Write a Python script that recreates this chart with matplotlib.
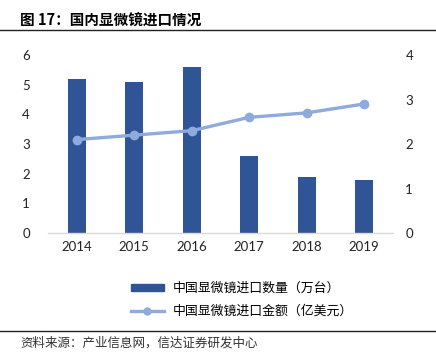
import matplotlib
matplotlib.use('Agg')
import matplotlib.pyplot as plt
from matplotlib.lines import Line2D
from matplotlib.patches import Patch
import numpy as np

plt.rcParams['font.family'] = ['Lato', 'Noto Sans CJK SC', 'DejaVu Sans']

#%% DATA
years = ['2014', '2015', '2016', '2017', '2018', '2019']
qty = [5.2, 5.1, 5.6, 2.6, 1.9, 1.8]       # 万台
amount = [2.1, 2.2, 2.3, 2.6, 2.7, 2.9]    # 亿美元
left_ticks = [0, 1, 2, 3, 4, 5, 6]
right_ticks = [0, 1, 2, 3, 4]

title = '图 17：国内显微镜进口情况'
source = '资料来源：产业信息网，信达证券研发中心'
lab_bar = '中国显微镜进口数量（万台）'
lab_line = '中国显微镜进口金额（亿美元）'

bar_c = '#2F5597'
line_c = '#8FAADC'

#%% FIGURE
fig = plt.figure(figsize=(4.36, 3.57), dpi=100)
ax = fig.add_axes([0.110, 0.347, 0.791, 0.499])
ax2 = ax.twinx()

x = np.arange(len(years))
ax.bar(x, qty, width=0.31, color=bar_c, zorder=2)
ax2.plot(x, amount, color=line_c, lw=2.4, marker='o', ms=6, zorder=3)

ax.set_xlim(-0.5, len(years) - 0.5)
ax.set_ylim(0, 6)
ax2.set_ylim(0, 4)
ax.set_xticks(x)
ax.set_xticklabels(years)
ax.set_yticks(left_ticks)
ax2.set_yticks(right_ticks)

for a in (ax, ax2):
    for s in a.spines.values():
        s.set_visible(False)
    a.tick_params(length=0, labelsize=9.5, colors='#222222')
ax.spines['bottom'].set_visible(True)
ax.spines['bottom'].set_color('#D9D9D9')
ax.spines['bottom'].set_linewidth(1.0)
ax.tick_params(axis='y', pad=13)
ax2.tick_params(axis='y', pad=9)
ax.tick_params(axis='x', pad=6)

### legend
handles = [Patch(color=bar_c), Line2D([0], [0], color=line_c, lw=2.4, marker='o', ms=5)]
fig.legend(handles, [lab_bar, lab_line], loc='center', bbox_to_anchor=(0.555, 0.16),
           frameon=False, handlelength=2.6, handleheight=0.5, labelspacing=0.75,
           handletextpad=0.7, prop={'family': ['Noto Sans CJK SC'], 'size': 9.3})

### title, source, rules
fig.text(0.046, 0.942, title, fontsize=10.5, fontweight='bold', va='center',
         family=['Noto Sans CJK SC'])
fig.add_artist(Line2D([0, 1], [0.916, 0.916], color='#222222', lw=1.0))
fig.add_artist(Line2D([0, 1], [0.073, 0.073], color='#222222', lw=1.0))
fig.text(0.046, 0.040, source, fontsize=9, style='italic', va='center', color='#333333',
         family=['Noto Sans CJK SC'])

fig.savefig('out.png', dpi=100)
